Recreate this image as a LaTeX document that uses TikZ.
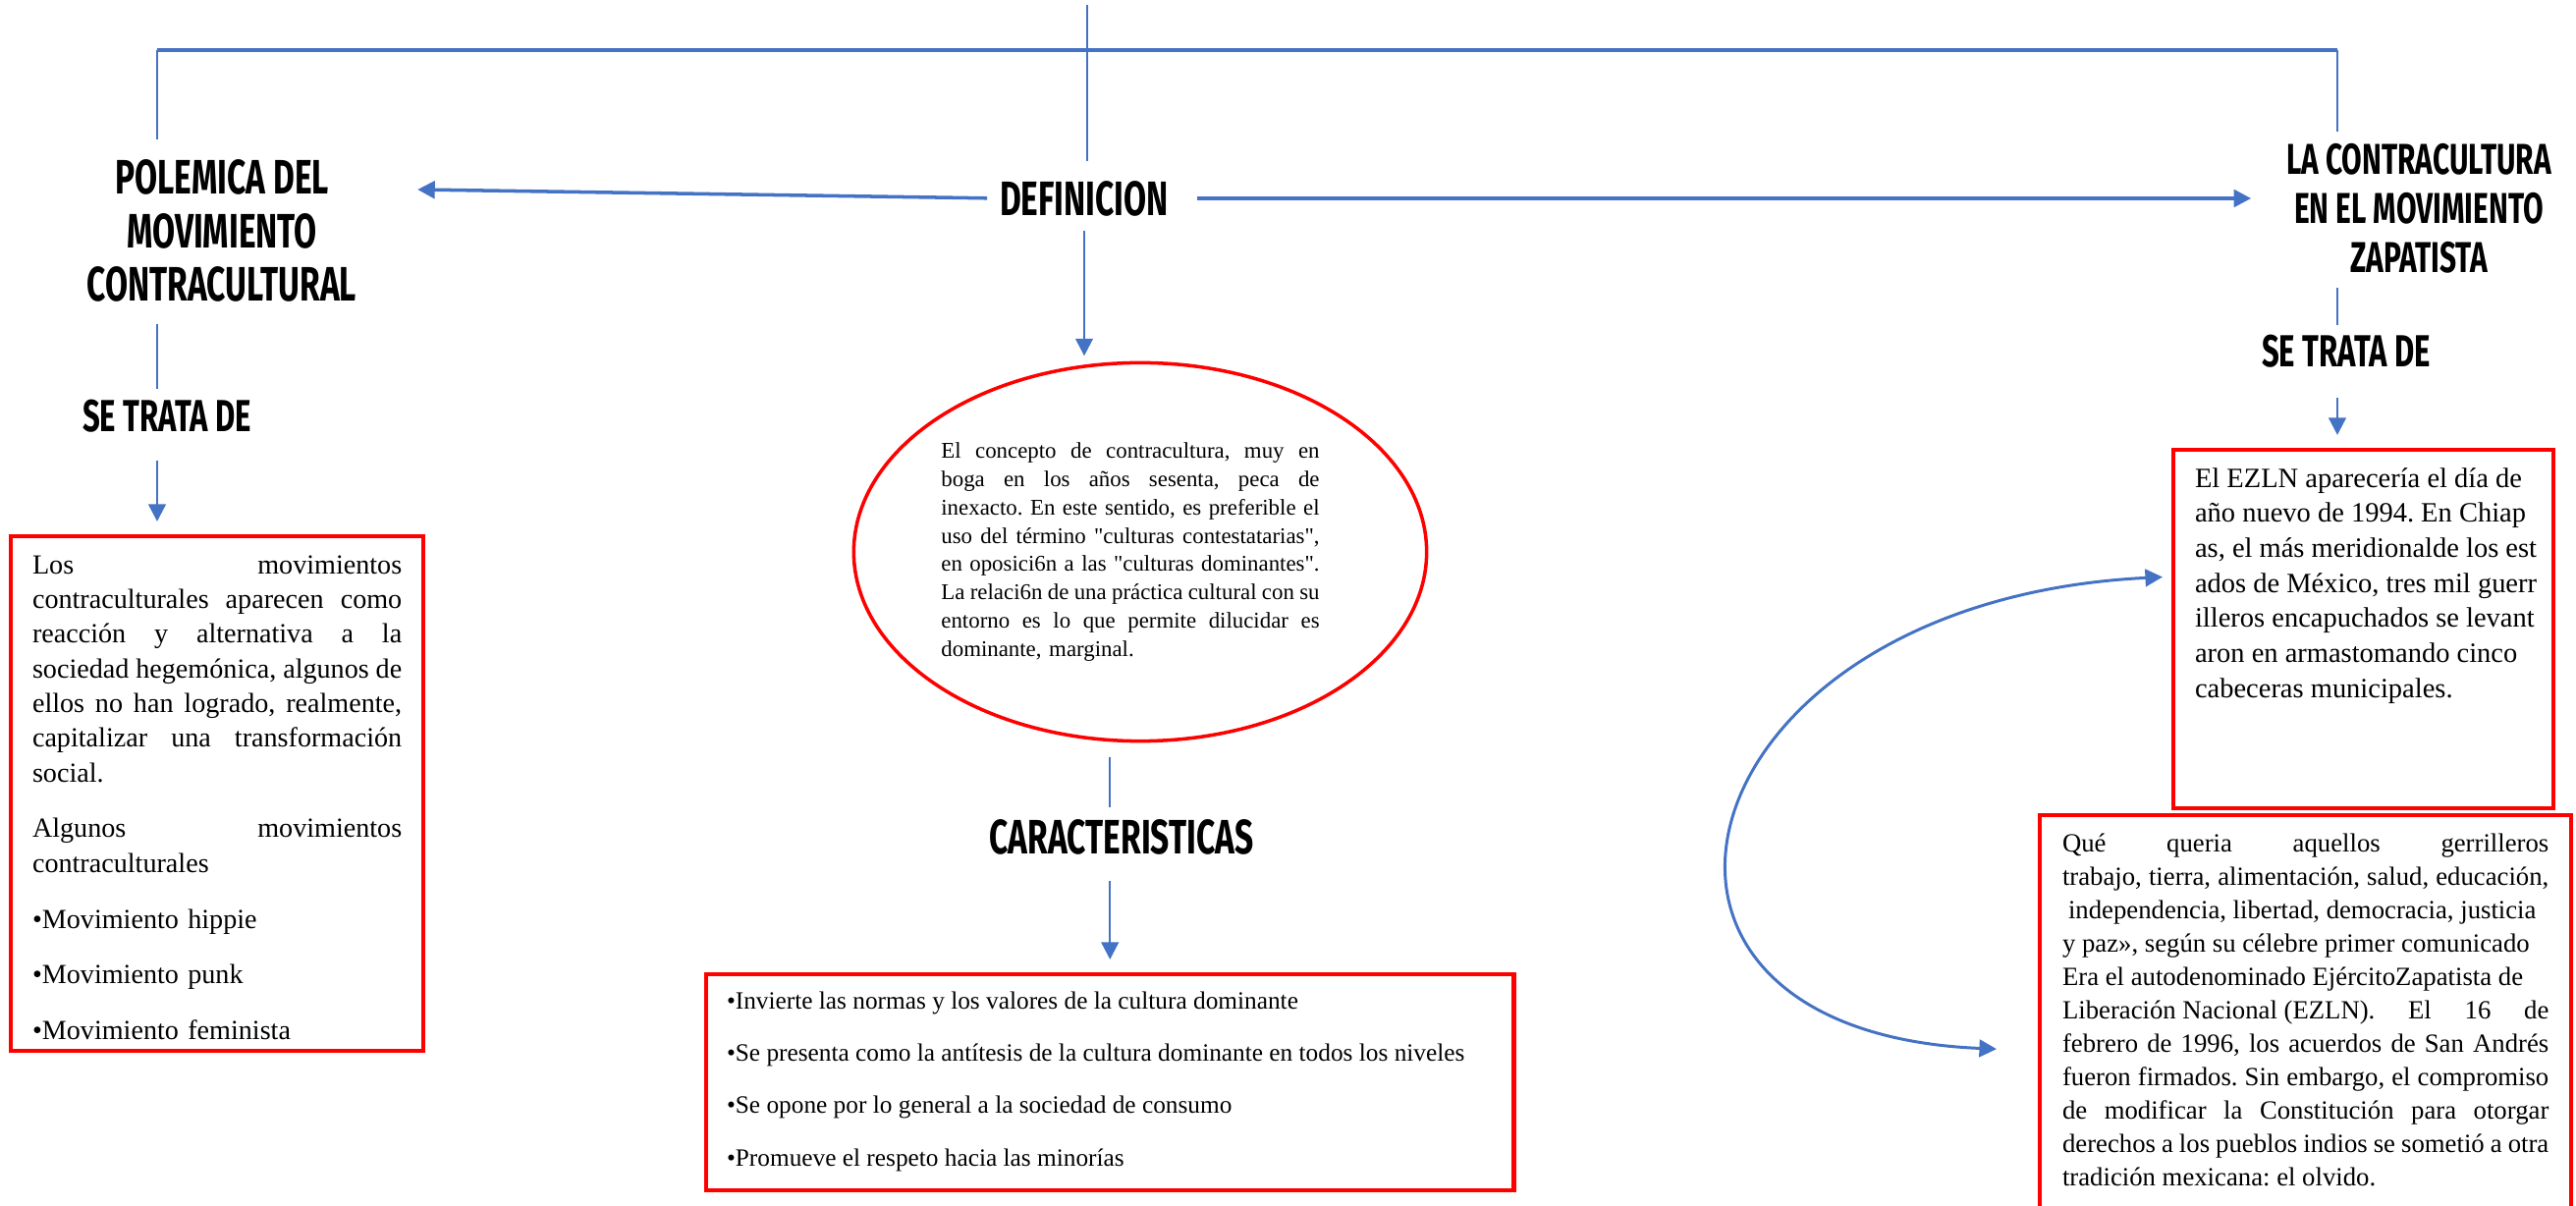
\documentclass[tikz,border=0pt]{standalone}
\usepackage{fontspec}
\setmainfont{Liberation Serif}
\newfontfamily\brushfont[FakeStretch=0.68]{Fira Sans}
\usetikzlibrary{arrows.meta,shapes.geometric}
\definecolor{mapblue}{RGB}{68,114,196}
\definecolor{mapred}{RGB}{255,0,0}
\frenchspacing
\newcommand{\rlinewidth}{\hsize}
\newcommand{\rline}[2][s]{\makebox[\rlinewidth][#1]{\spaceskip=0pt\xspaceskip=0pt #2}}
\begin{document}
\begin{tikzpicture}[x=0.01cm,y=-0.01cm,inner sep=0pt,outer sep=0pt,
headline/.style={align=center,font=\brushfont\bfseries\fontsize{14}{15.6}\selectfont},
redbox/.style={draw=mapred,line width=1.15pt,anchor=north west,inner ysep=0pt,align=left},
bluelink/.style={draw=mapblue,line width=0.7pt},
bluearrow/.style={bluelink,-{Triangle[length=5pt,width=5pt]}},
>={Triangle[length=5pt,width=5pt]}]
\useasboundingbox (0,0) rectangle (2623,1228);

\draw (1104,202) node[headline] (def) {DEFINICION};
\draw (226,235) node[headline,inner xsep=0.62cm] (pol) {POLEMICA DEL\\MOVIMIENTO\\CONTRACULTURAL};
\draw (2463,212) node[headline,font=\brushfont\bfseries\fontsize{12.5}{14.2}\selectfont] (zap) {LA CONTRACULTURA\\EN EL MOVIMIENTO\\ZAPATISTA};
\draw (170,424) node[headline,font=\brushfont\bfseries\fontsize{13}{14}\selectfont] (setl) {SE TRATA DE};
\draw (2389,358) node[headline,font=\brushfont\bfseries\fontsize{13}{14}\selectfont] (setr) {SE TRATA DE};
\draw (1142,852) node[headline] (car) {CARACTERISTICAS};

\draw (1161,562) node[ellipse,draw=mapred,line width=1pt,minimum width=5.83cm,minimum height=3.85cm,
  text width=4.05cm,align=left,font={\fontsize{6.5}{8.17}\selectfont\def\rlinewidth{3.85cm}}] (ell)
  {\rline{El concepto de contracultura, muy en}\\
   \rline{boga en los años sesenta, peca de}\\
   \rline{inexacto. En este sentido, es preferible el}\\
   \rline{uso del término \textquotedbl culturas contestatarias\textquotedbl,}\\
   \rline{en oposici6n a las \textquotedbl culturas dominantes\textquotedbl.}\\
   \rline{La relaci6n de una práctica cultural con su}\\
   \rline{entorno es lo que permite dilucidar es}\\
   dominante, marginal.};

\draw (11,546) node[redbox,inner xsep=0.22cm,text width=3.76cm,text height=0.38cm,text depth=4.86cm,
  font=\fontsize{8}{10.05}\selectfont] (polbox)
  {\rline{Los movimientos}\\
   \rline{contraculturales aparecen como}\\
   \rline{reacción y alternativa a la}\\
   \rline{sociedad hegemónica, algunos de}\\
   \rline{ellos no han logrado, realmente,}\\
   \rline{capitalizar una transformación}\\
   social.\\[6.1pt]
   \rline{Algunos movimientos}\\
   contraculturales\\[6.1pt]
   •Movimiento hippie\\[6.1pt]
   •Movimiento punk\\[6.1pt]
   •Movimiento feminista};

\draw (719,992) node[redbox,inner xsep=0.21cm,text width=7.8cm,text height=0.35cm,text depth=1.85cm,
  font=\fontsize{7.2}{15.2}\selectfont] (carbox)
  {\rline[l]{•Invierte las normas y los valores de la cultura dominante}\\
   \rline[l]{•Se presenta como la antítesis de la cultura dominante en todos los niveles}\\
   \rline[l]{•Se opone por lo general a la sociedad de consumo}\\
   \rline[l]{•Promueve el respeto hacia las minorías}};

\draw (2213,458) node[redbox,inner xsep=0.22cm,text width=3.43cm,text height=0.38cm,text depth=3.27cm,
  font=\fontsize{8.1}{10.16}\selectfont] (zapbox1)
  {\rline[l]{El EZLN aparecería el día de}\\
   \rline[l]{año nuevo de 1994. En Chiap}\\
   \rline[l]{as, el más meridionalde los est}\\
   \rline[l]{ados de México, tres mil guerr}\\
   \rline[l]{illeros encapuchados se levant}\\
   \rline[l]{aron en armastomando cinco}\\
   \rline[l]{cabeceras municipales.}};

\draw (2077,830) node[redbox,inner xsep=0.23cm,text width=4.95cm,text height=0.37cm,text depth=3.93cm,
  font=\fontsize{7.6}{9.67}\selectfont] (zapbox2)
  {\rline{Qué queria aquellos gerrilleros}\\
   \rline{trabajo, tierra, alimentación, salud, educación,}\\
   \rline[l]{\hspace{0.06cm}independencia, libertad, democracia, justicia}\\
   \rline[l]{y paz», según su célebre primer comunicado}\\
   \rline[l]{Era el autodenominado EjércitoZapatista de}\\
   \rline{\mbox{Liberación Nacional (EZLN).} El 16 de}\\
   \rline{febrero de 1996, los acuerdos de San Andrés}\\
   \rline{fueron firmados. Sin embargo, el compromiso}\\
   \rline{de modificar la Constitución para otorgar}\\
   \rline{derechos a los pueblos indios se sometió a otra}\\
   \rline[l]{tradición mexicana: el olvido.}};

\coordinate (top) at (1107,5);
\coordinate (tl) at (160,51);
\coordinate (tr) at (2380,51);
\draw[bluelink,line width=1.15pt] (tl) -- (tr);
\draw[bluelink,shorten >=0.2cm] (top) -- (top |- def.north);
\draw[bluelink,shorten >=0.2cm] (tl) -- (tl |- pol.north);
\draw[bluelink,shorten >=0.12cm] (tr) -- (tr |- zap.north);
\draw[bluearrow,line width=1pt,shorten <=0.13cm] (def.west) -- (pol.east |- 0,193);
\draw[bluearrow,line width=1pt,shorten <=0.29cm,shorten >=0.36cm] (def.east) -- (zap.west |- def.east);
\draw[bluearrow,shorten <=0.15cm,shorten >=0.07cm] (def.south) -- (def.south |- ell.north);
\draw[bluelink,shorten <=0.22cm,shorten >=0.11cm] (tl |- pol.south) -- (tl |- setl.north);
\draw[bluearrow,shorten <=0.28cm,shorten >=0.15cm] (tl |- setl.south) -- (tl |- polbox.north);
\draw[bluelink,shorten <=0.15cm,shorten >=0.1cm] (tr |- zap.south) -- (tr |- setr.north);
\draw[bluearrow,shorten <=0.3cm,shorten >=0.15cm] (tr |- setr.south) -- (tr |- zapbox1.north);
\draw[bluelink,shorten <=0.16cm,shorten >=0.12cm] (carbox.north |- ell.south) -- (carbox.north |- car.north);
\draw[bluearrow,shorten <=0.27cm,shorten >=0.15cm] (carbox.north |- car.south) -- (carbox.north);
\draw[bluelink,line width=0.85pt,<->,shorten <=0.44cm,shorten >=0.11cm] (zapbox2.west |- 0,1070)
  .. controls +(-480,-20) and +(-505,25) .. (zapbox1.west |- 0,587);
\end{tikzpicture}
\end{document}
